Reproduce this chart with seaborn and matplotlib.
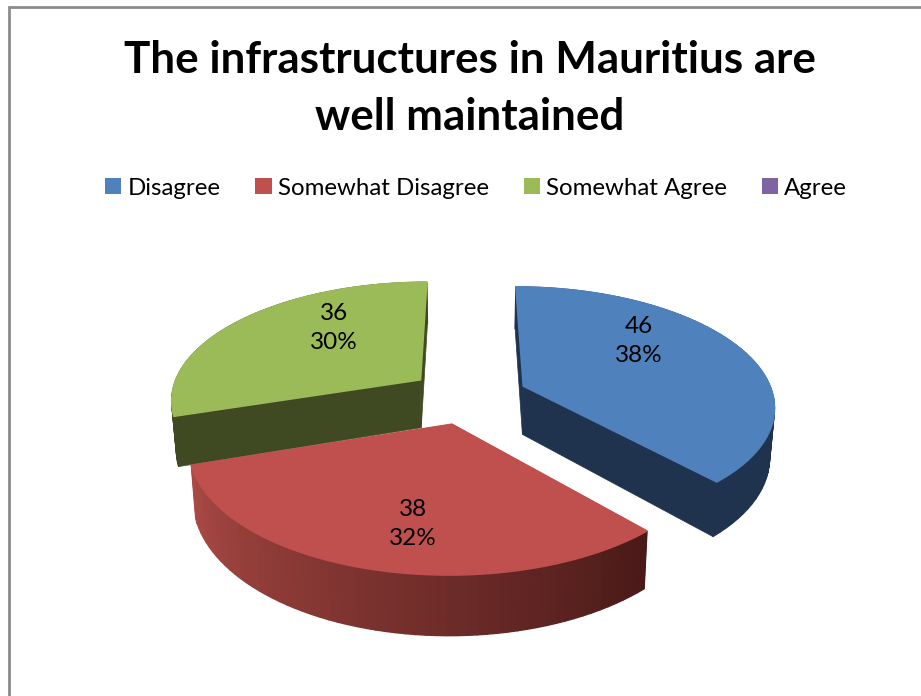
import numpy as np
import matplotlib
matplotlib.use('Agg')
import matplotlib.pyplot as plt
from matplotlib.patches import Patch
import seaborn as sns

# Survey answers
categories = ['Disagree', 'Somewhat Disagree', 'Somewhat Agree', 'Agree']
counts = [46, 38, 36, 0]
top_colors = ['#4f81bd', '#c0504d', '#9bbb59', '#8064a2']
title_lines = ['The infrastructures in Mauritius are', 'well maintained']

# Projection of the tilted pie onto the page (pixels)
CX, CY = 468, 396
RX, RY = 250, 117.4
PERSP = 0.156
EXPLODE = 0.24
DEPTH = 49
SHRINK = 0.984

# Label anchors and wall shading per slice (Agree has no slice)
label_pos = [(639, 341), (413, 524), (334, 328), None]
wall_left = ['#1f334f', '#ab4a45', '#404a22', '#000000']
wall_right = ['#1f334f', '#4a1a18', '#404a22', '#000000']
cut_colors = ['#1f334f', '#4a1a18', '#404a22', '#000000']


def project(x, y, lower=False):
    """Map pie plane coordinates to page pixels, lower=True for the base of the pie"""
    w = 1 + PERSP * y
    px = RX * x / w
    py = -RY * y / w
    if lower:
        px = px * SHRINK
        py = py + DEPTH / w
    return CX + px, CY + py


def blend(c1, c2, t):
    a = np.array(matplotlib.colors.to_rgb(c1))
    b = np.array(matplotlib.colors.to_rgb(c2))
    return a + (b - a) * t


def draw_slice(ax, start, end, mid, i):
    ox = EXPLODE * np.sin(mid)
    oy = EXPLODE * np.cos(mid)
    theta = np.linspace(start, end, 60)
    xs = ox + np.sin(theta)
    ys = oy + np.cos(theta)

    # cut faces first, they sit behind the rim and the top
    for t in [start, end]:
        ex, ey = ox + np.sin(t), oy + np.cos(t)
        px1, py1 = project(np.array([ox, ex]), np.array([oy, ey]))
        px2, py2 = project(np.array([ex, ox]), np.array([ey, oy]), lower=True)
        ax.fill(np.r_[px1, px2], np.r_[py1, py2], color=cut_colors[i], lw=0.5, zorder=i_order[i])

    # outer rim, cut in small quads for the shading
    tx, ty = project(xs, ys)
    bx, by = project(xs, ys, lower=True)
    for k in range(len(theta) - 1):
        shade = blend(wall_left[i], wall_right[i], 1 - k / (len(theta) - 2))
        ax.fill([tx[k], tx[k + 1], bx[k + 1], bx[k]],
                [ty[k], ty[k + 1], by[k + 1], by[k]],
                color=shade, lw=1.0, zorder=i_order[i] + 0.1)

    # top face, with an edge of its own colour to hide the rim underneath
    ax0, ay0 = project(ox, oy)
    ax.fill(np.r_[ax0, tx], np.r_[ay0, ty], color=top_colors[i], lw=1.2, zorder=i_order[i] + 0.2)


sns.set_theme(style='white')
plt.rcParams['font.family'] = ['Lato', 'DejaVu Sans']

fig, ax = plt.subplots(figsize=(9.21, 6.96), dpi=100)
fig.subplots_adjust(0, 0, 1, 1)
ax.set_xlim(0, 921)
ax.set_ylim(696, 0)
ax.axis('off')

# paint back to front: green, blue, red
i_order = {2: 1, 0: 2, 1: 3, 3: 0}

total = sum(counts)
edges = np.r_[0, np.cumsum(counts)] / total * 2 * np.pi
for i in range(len(counts)):
    if counts[i] == 0:
        continue
    draw_slice(ax, edges[i], edges[i + 1], (edges[i] + edges[i + 1]) / 2, i)
    lx, ly = label_pos[i]
    ax.text(lx, ly, f'{counts[i]}\n{counts[i] / total * 100:.0f}%', ha='center', va='center',
            fontsize=17.5, color='black', linespacing=1.5, zorder=10)

# chart frame, only top and left are inside the crop
ax.plot([9, 9, 921], [696, 7, 7], color='#8c8c8c', lw=2, solid_joinstyle='miter', zorder=11)

ax.text(470, 60, title_lines[0], ha='center', va='center', fontsize=31.7, fontweight='bold', color='black')
ax.text(470, 117, title_lines[1], ha='center', va='center', fontsize=31.7, fontweight='bold', color='black')

handles = [Patch(facecolor=c, edgecolor='none') for c in top_colors]
ax.legend(handles, categories, ncol=4, loc='center', bbox_to_anchor=(476 / 921, 1 - 188 / 696),
          frameon=False, fontsize=17.3, handlelength=0.67, handleheight=0.62, handletextpad=0.25,
          columnspacing=1.46, borderpad=0, labelcolor='black')

fig.savefig('out.png', dpi=100)
plt.close(fig)
